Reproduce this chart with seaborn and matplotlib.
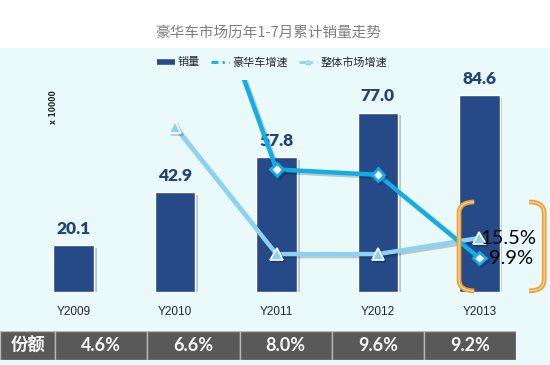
import numpy as np
import pandas as pd
import seaborn as sns
import matplotlib.pyplot as plt
import matplotlib.patheffects as pe
from matplotlib.lines import Line2D
from matplotlib.path import Path
from matplotlib.patches import PathPatch, Rectangle

# data
years = ["Y2009", "Y2010", "Y2011", "Y2012", "Y2013"]
sales = [20.1, 42.9, 57.8, 77.0, 84.6]            # x 10000
lux_growth = [np.nan, 113.4, 34.7, 33.2, 9.9]     # 豪华车增速 %
market_growth = [np.nan, 46.6, 11.0, 11.0, 15.5]  # 整体市场增速 %
shares = [4.6, 6.6, 8.0, 9.6, 9.2]                # 份额 %

title = "豪华车市场历年1-7月累计销量走势"
legend_labels = ["销量", "豪华车增速", "整体市场增速"]

bar_c = "#254a87"
lux_c = "#12ade6"
mkt_c = "#8dd2f3"
bg_c = "#eafafa"
cjk = ["Noto Sans CJK SC", "DejaVu Sans"]

sns.set_style("white")
plt.rcParams['font.family'] = ["Lato", "Noto Sans CJK SC", "DejaVu Sans"]

W, H = 550, 365
fig = plt.figure(figsize=(5.5, 3.65), dpi=100)
fig.patch.set_facecolor("white")
fig.patches.append(Rectangle((0, 0), 1, 1 - 48 / H, transform=fig.transFigure,
                             facecolor=bg_c, edgecolor="none", zorder=-10))

ax = fig.add_axes([23 / W, 1 - 292 / H, 507 / W, 212 / H])
ax.patch.set_alpha(0)
df = pd.DataFrame({"year": years, "sales": sales})
sns.barplot(data=df, x="year", y="sales", color=bar_c, width=0.4, saturation=1, ax=ax)
for p in ax.patches:
    p.set_path_effects([pe.SimplePatchShadow(offset=(2, -2), alpha=0.22), pe.Normal()])
ax.bar_label(ax.containers[0], fmt="%.1f", padding=6, fontsize=12.5,
             fontweight="heavy", color="#23427a")
ax.set_ylim(0, 91)
ax.set_xlim(-0.5, 4.5)
ax.set_xlabel("")
ax.set_ylabel("")
ax.set_yticks([])
ax.tick_params(axis="x", length=0, pad=10, labelsize=8.5, labelcolor="#262626")
for lab in ax.get_xticklabels():
    lab.set_family("Liberation Sans")
sns.despine(ax=ax, left=True, bottom=True)

ax2 = ax.twinx()
ax2.patch.set_alpha(0)
idx = np.arange(len(years))
gdf = pd.DataFrame({"pos": idx, "lux": lux_growth, "mkt": market_growth}).dropna()
line_fx = [pe.SimpleLineShadow(offset=(1.5, -1.5), alpha=0.2), pe.Normal()]
sns.lineplot(data=gdf, x="pos", y="mkt", ax=ax2, color=mkt_c, lw=3.2,
             marker="^", markersize=9, markerfacecolor=mkt_c,
             markeredgecolor="white", markeredgewidth=1.2, path_effects=line_fx)
sns.lineplot(data=gdf, x="pos", y="lux", ax=ax2, color=lux_c, lw=3.2,
             marker="D", markersize=6.5, markerfacecolor="white",
             markeredgecolor=lux_c, markeredgewidth=2, path_effects=line_fx)
ax2.set_ylim(0.38, 59.76)
ax2.set_xlim(-0.5, 4.5)
ax2.set_yticks([])
ax2.set_ylabel("")
ax2.set_xlabel("")
sns.despine(ax=ax2, left=True, bottom=True, right=True)

# end labels
last = len(years) - 1
ax2.annotate(f"{market_growth[last]:.1f}%", (last, market_growth[last]),
             xytext=(1, 0), textcoords="offset points", ha="left", va="center",
             fontsize=14.5, color="black")
ax2.annotate(f"{lux_growth[last]:.1f}%", (last, lux_growth[last]),
             xytext=(7, 0), textcoords="offset points", ha="left", va="center",
             fontsize=14.5, color="black")

# orange brackets around the end labels
def bracket(x_in, x_out, y0, y1, r):
    verts = [(x_in, y1), (x_out, y1), (x_out, y1 - r), (x_out, y0 + r),
             (x_out, y0), (x_in, y0)]
    codes = [Path.MOVETO, Path.CURVE3, Path.CURVE3, Path.LINETO, Path.CURVE3, Path.CURVE3]
    return Path(verts, codes)

tr = ax2.transData
y_top, y_bot = 25.6, 0.7
for xi, xo in [(last - 0.05, last - 0.2), (last + 0.49, last + 0.64)]:
    pth = bracket(xi, xo, y_bot, y_top, 3.2)
    ax2.add_patch(PathPatch(pth, facecolor="none", edgecolor="#f0a035", lw=3.4,
                            clip_on=False, transform=tr, zorder=5))
    ax2.add_patch(PathPatch(pth, facecolor="none", edgecolor="#fde7c4", lw=0.7,
                            clip_on=False, transform=tr, zorder=6))

# legend
dash = (0, (2.5, 1.5, 0.8, 1.5))
handles = [Line2D([], [], color=bar_c, lw=4, solid_capstyle="butt"),
           Line2D([], [], color=lux_c, lw=2, ls=dash),
           Line2D([], [], color=mkt_c, lw=2, ls=dash, marker="^", markersize=3,
                  markerfacecolor="white", markeredgecolor=mkt_c)]
leg = fig.legend(handles, legend_labels, loc="center", bbox_to_anchor=(272 / W, 1 - 62 / H),
                 ncol=3, frameon=False, handlelength=1.6, handletextpad=0.3,
                 columnspacing=1.0, prop={"family": cjk, "size": 8})
for t in leg.get_texts():
    t.set_color("#262626")

fig.text(268 / W, 1 - 33 / H, title, ha="center", va="center", fontsize=10.5,
         color="#7f7f7f", family=cjk)
fig.text(53 / W, 1 - 107 / H, "x 10000", rotation=90, ha="center", va="center",
         fontsize=5.5, fontweight="bold", family="DejaVu Sans")

# share table
tab = fig.add_axes([0, 1 - 360 / H, 516 / W, 29 / H])
widths = [0.6] + [1.0] * len(shares)
lefts = np.concatenate([[0], np.cumsum(widths)[:-1]])
tab.bar(lefts, 1, width=widths, align="edge", color="#595959",
        edgecolor="#b5b5b5", lw=1)
cells = ["份额"] + [f"{s:.1f}%" for s in shares]
for i, (l, w, txt) in enumerate(zip(lefts, widths, cells)):
    tab.text(l + w / 2, 0.5, txt, ha="center", va="center", color="#f5f5f5",
             fontweight="bold", fontsize=12.5 if i == 0 else 13,
             family=cjk if i == 0 else "Lato")
tab.set_xlim(0, sum(widths))
tab.set_ylim(0, 1)
tab.axis("off")

fig.savefig("out.png", dpi=100)
